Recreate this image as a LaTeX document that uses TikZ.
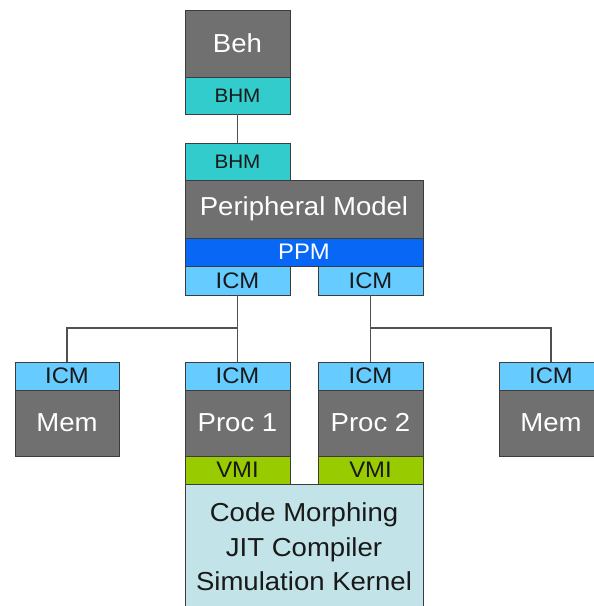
\documentclass[tikz,border=0pt]{standalone}
\usepackage{fontspec}
\setmainfont{Liberation Sans}[FakeStretch=1.06]
\definecolor{gfill}{RGB}{112,112,112}
\definecolor{teal1}{RGB}{51,204,204}
\definecolor{blue1}{RGB}{8,104,245}
\definecolor{lblue}{RGB}{102,204,255}
\definecolor{lgreen}{RGB}{153,204,0}
\definecolor{codebg}{RGB}{194,228,233}
\definecolor{edge}{RGB}{60,60,60}
\definecolor{wire}{RGB}{80,80,80}
\tikzset{
  base/.style={draw=edge, line width=0.8pt, inner sep=0pt, outer sep=0pt, anchor=center},
  graybox/.style={base, fill=gfill, text=white, font=\fontsize{26}{30}\selectfont},
  tealbox/.style={base, fill=teal1, text=black!90, font=\fontsize{19.5}{24}\selectfont},
  bluebox/.style={base, fill=blue1, text=white, font=\fontsize{22.5}{26}\selectfont},
  icmbox/.style={base, fill=lblue, text=black!90, font=\fontsize{22.5}{26}\selectfont},
  vmibox/.style={base, fill=lgreen, text=black!90, font=\fontsize{22.5}{26}\selectfont},
  codebox/.style={base, fill=codebg, text=black!90, align=center, font=\fontsize{26}{34.5}\selectfont},
  conn/.style={draw=wire, line width=1.2pt}
}
\begin{document}
\begin{tikzpicture}[x=1pt,y=1pt]
\clip (0,0) rectangle (594,-606);
\fill[white] (0,0) rectangle (594,-606);
% top behaviour block
\node[graybox, minimum width=105, minimum height=67] (beh) at (237.5,-43.5) {Beh};
\node[tealbox, minimum width=105, minimum height=37] (bhm1) at (237.5,-95.5) {BHM};
\node[tealbox, minimum width=105, minimum height=37] (bhm2) at (237.5,-161.5) {BHM};
% peripheral model
\node[graybox, minimum width=238, minimum height=58] (pm) at (304,-209) {Peripheral Model};
\node[bluebox, minimum width=238, minimum height=28] (ppm) at (304,-252) {PPM};
\node[icmbox, minimum width=105, minimum height=29] (icma) at (237.5,-280.5) {ICM};
\node[icmbox, minimum width=105, minimum height=29] (icmb) at (370.5,-280.5) {ICM};
% memory left
\node[icmbox, minimum width=104, minimum height=28] (m1icm) at (67,-376) {ICM};
\node[graybox, minimum width=104, minimum height=66] (mem1) at (67,-423) {Mem};
% proc 1
\node[icmbox, minimum width=105, minimum height=28] (p1icm) at (237.5,-376) {ICM};
\node[graybox, minimum width=105, minimum height=66] (proc1) at (237.5,-423) {Proc 1};
\node[vmibox, minimum width=105, minimum height=28] (vmi1) at (237.5,-470) {VMI};
% proc 2
\node[icmbox, minimum width=105, minimum height=28] (p2icm) at (370.5,-376) {ICM};
\node[graybox, minimum width=105, minimum height=66] (proc2) at (370.5,-423) {Proc 2};
\node[vmibox, minimum width=105, minimum height=28] (vmi2) at (370.5,-470) {VMI};
% memory right (partly cut by the frame)
\node[icmbox, minimum width=104, minimum height=28] (m2icm) at (551,-376) {ICM};
\node[graybox, minimum width=104, minimum height=66] (mem2) at (551,-423) {Mem};
% kernel
\node[codebox, minimum width=238, minimum height=126] (code) at (304,-547) {Code Morphing\\JIT Compiler\\Simulation Kernel};
% connectors
\coordinate (ja) at (237.5,-328);
\coordinate (jb) at (370.5,-328);
\draw[conn] (bhm1.south) -- (bhm2.north);
\draw[conn] (icma.south) -- (p1icm.north);
\draw[conn] (ja) -| (m1icm.north);
\draw[conn] (icmb.south) -- (p2icm.north);
\draw[conn] (jb) -| (m2icm.north);
\end{tikzpicture}
\end{document}
